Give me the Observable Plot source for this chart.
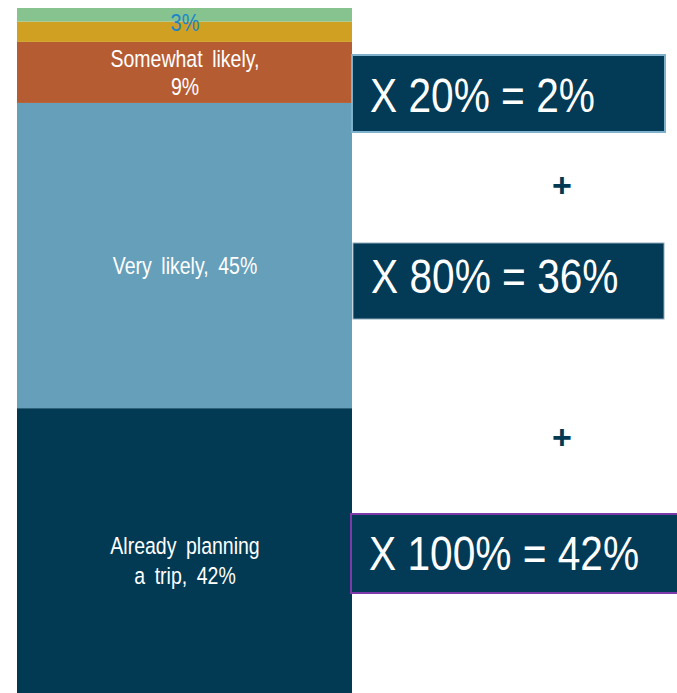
<!DOCTYPE html>
<html><head><meta charset="utf-8">
<script src="https://cdn.jsdelivr.net/npm/d3@7"></script>
<script src="https://cdn.jsdelivr.net/npm/@observablehq/plot@0.6"></script>
<style>
html,body{margin:0;padding:0;background:#fff;}
#chart svg{display:block;}
</style></head><body><div id="chart"></div>
<script>
// ---- data ----
const categories = ["Already planning a trip", "Very likely", "Somewhat likely", "Somewhat unlikely", "Not likely"];
const shares = [42, 45, 9, 3, 2];
const segmentLabels = ["Already planning\na trip, 42%", "Very likely, 45%", "Somewhat likely,\n9%", "3%", ""];
const colors = ["#023a54", "#659fba", "#b65c33", "#cfa022", "#86c38f"];
const conversionRates = ["20%", "80%", "100%"];
const conversionResults = ["2%", "36%", "42%"];

const FONT = "'Liberation Sans', Arial, sans-serif";
const NARROW = 0.83;
const rows = categories.map((c, i) => ({category: c, share: shares[i], label: segmentLabels[i]}));
const only = (...cats) => d => cats.includes(d.category) ? d.label : null;

const chart = Plot.plot({
  width: 677, height: 693,
  marginTop: 8, marginBottom: 0, marginLeft: 17, marginRight: 325,
  y: {domain: [0, d3.sum(shares)], axis: null},
  color: {domain: categories, range: colors},
  style: {fontFamily: FONT, background: "#fff", overflow: "visible"},
  marks: [
    Plot.barY(rows, {y: "share", fill: "category"}),
    Plot.text(rows, Plot.stackY({y: "share", text: only("Somewhat likely"),
      fill: "#fff", fontSize: 23.5, lineHeight: 1.22, dy: -1})),
    Plot.text(rows, Plot.stackY({y: "share", text: only("Very likely", "Already planning a trip"),
      fill: "#fff", fontSize: 23.5, lineHeight: 1.28, dy: 8})),
    Plot.text(rows, Plot.stackY({y: "share", text: only("Somewhat unlikely"),
      fill: "#1a86c8", fontSize: 24, dy: -9}))
  ]
});
document.getElementById("chart").appendChild(chart);

// narrow the segment labels (Arial Narrow look)
d3.select(chart).selectAll("text").each(function() {
  const t = this.getAttribute("transform") || "";
  this.setAttribute("transform", `${t} scale(${NARROW},1)`);
  this.style.wordSpacing = "5px";
});

// ---- annotation boxes (layout) ----
const svg = d3.select(chart);
const boxes = [
  {x: 352, y: 55, w: 313, h: 77, base: 112, stroke: "#7fb1cd", sw: 2, rate: conversionRates[0], result: conversionResults[0]},
  {x: 353, y: 243, w: 311, h: 76, base: 293, stroke: "#8ea9bb", sw: 1, rate: conversionRates[1], result: conversionResults[1]},
  {x: 351, y: 514, w: 330, h: 79, base: 570, stroke: "#7a3aa8", sw: 2, rate: conversionRates[2], result: conversionResults[2]}
];
const g = svg.append("g").attr("text-anchor", "start");
boxes.forEach(b => {
  g.append("rect").attr("x", b.x).attr("y", b.y).attr("width", b.w).attr("height", b.h)
    .attr("fill", "#033a55").attr("stroke", b.stroke).attr("stroke-width", b.sw);
  g.append("text").attr("transform", `translate(${b.x + 18},${b.base}) scale(${NARROW},1)`)
    .attr("text-anchor", "start")
    .attr("fill", "#fff").attr("font-family", FONT).attr("font-size", 49)
    .text(`X ${b.rate} = ${b.result}`);
});
[185, 437].forEach(cy => {
  g.append("text").attr("x", 562).attr("y", cy).attr("dy", "0.35em").attr("text-anchor", "middle")
    .attr("fill", "#023a54").attr("font-family", FONT)
    .attr("font-weight", "bold").attr("font-size", 34).text("+");
});
</script></body></html>
